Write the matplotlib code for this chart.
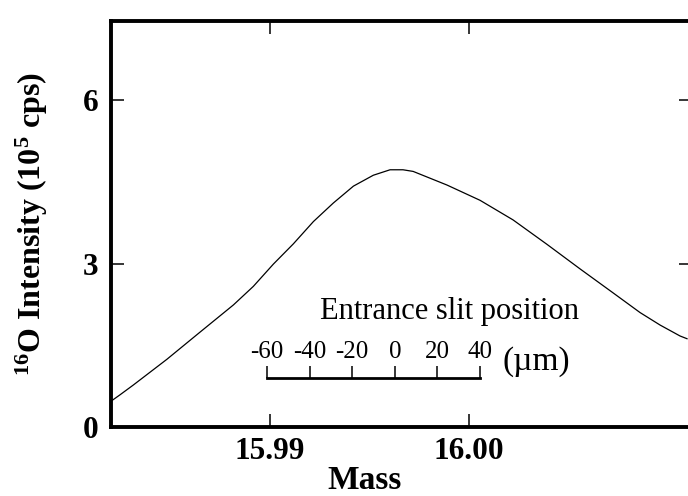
import matplotlib
matplotlib.use("Agg")
import matplotlib.pyplot as plt

# ---- data ----
mass = [15.98196, 15.98246, 15.98313, 15.98481, 15.98648, 15.98816, 15.98916,
        15.99017, 15.99117, 15.99218, 15.99318, 15.99419, 15.99519, 15.99603,
        15.99668, 15.99719, 15.99889, 16.00055, 16.00221, 16.00392, 16.00558,
        16.00724, 16.00859, 16.00960, 16.01060, 16.01095]
intensity = [0.46, 0.59, 0.77, 1.24, 1.74, 2.24, 2.58, 2.99, 3.36, 3.77, 4.11,
             4.42, 4.62, 4.72, 4.72, 4.69, 4.44, 4.16, 3.80, 3.35, 2.90,
             2.46, 2.10, 1.87, 1.67, 1.62]
x_ticks = [15.99, 16.00]
x_tick_labels = ["15.99", "16.00"]
y_ticks = [0, 3, 6]
y_tick_labels = ["0", "3", "6"]
slit_ticks = [-60, -40, -20, 0, 20, 40]
slit_tick_labels = ["-60", "-40", "-20", "0", "20", "40"]

plt.rcParams['font.family'] = ['Liberation Serif', 'DejaVu Serif']
plt.rcParams['mathtext.fontset'] = 'custom'
plt.rcParams['mathtext.rm'] = 'Liberation Serif:bold'
plt.rcParams['mathtext.default'] = 'rm'

fig = plt.figure(figsize=(6.88, 4.96), dpi=100)
ax = fig.add_axes([111/688, 1-427/496, 581/688, 406/496])

ax.plot(mass, intensity, color='black', lw=0.9, solid_joinstyle='round')
ax.set_xlim(15.98201, 16.0112)
ax.set_ylim(0, 7.45)

ax.set_xticks(x_ticks)
ax.set_xticklabels(x_tick_labels)
ax.set_yticks(y_ticks)
ax.set_yticklabels(y_tick_labels)
for s in ax.spines.values():
    s.set_linewidth(2.8)
ax.tick_params(direction='in', length=9.5, width=1.1, top=True, right=True,
               labelsize=22.5, pad=7)
ax.tick_params(axis='y', pad=9)
for lab in ax.get_xticklabels() + ax.get_yticklabels():
    lab.set_fontweight('bold')

ax.set_xlabel('Mass', fontsize=24, fontweight='bold')
ax.xaxis.set_label_coords(0.437, -0.094)
ax.set_ylabel('$^{16}$O Intensity (10$^{5}$ cps)', fontsize=23,
              fontweight='bold')
ax.yaxis.set_label_coords(-0.105, 0.5)

# ---- inset scale bar: entrance slit position ----
ins = fig.add_axes([267/688, 1-378/496, 213/688, 12/496])
ins.patch.set_alpha(0)
ins.set_xlim(slit_ticks[0], slit_ticks[-1])
ins.set_yticks([])
for side in ['left', 'right', 'top']:
    ins.spines[side].set_visible(False)
ins.spines['bottom'].set_linewidth(2.0)
ins.set_xticks(slit_ticks)
ins.set_xticklabels(slit_tick_labels)
ins.tick_params(axis='x', direction='in', length=8.6, width=1.1,
                bottom=True, top=False, labelbottom=False, labeltop=True,
                labelsize=18, pad=2)
ins.text(236/213, 1.35, '(µm)', transform=ins.transAxes, fontsize=24,
         ha='left', va='center')
ins.text(183/213, 59/12, 'Entrance slit position', transform=ins.transAxes,
         fontsize=22, ha='center', va='baseline')

fig.savefig('out.png', dpi=100)
